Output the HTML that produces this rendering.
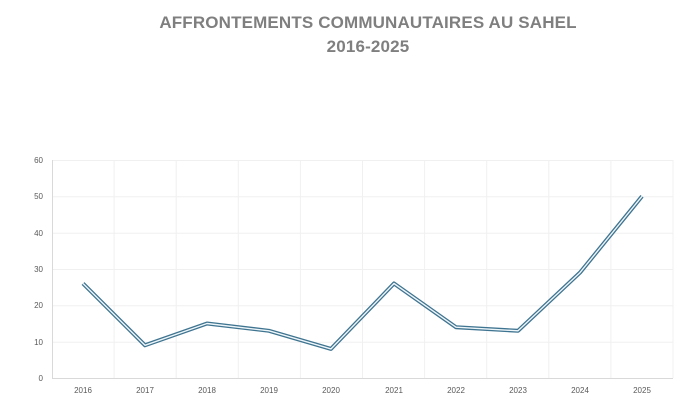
<!DOCTYPE html>
<html><head><meta charset="utf-8"><style>
body{margin:0;background:#fff;}
</style></head><body>
<svg width="684" height="400" xmlns="http://www.w3.org/2000/svg" font-family="Liberation Sans, sans-serif">
<text x="368" y="28" text-anchor="middle" font-size="17" font-weight="bold" fill="#7f7f7f" letter-spacing="0.15">AFFRONTEMENTS COMMUNAUTAIRES AU SAHEL</text>
<text x="368" y="52" text-anchor="middle" font-size="17" font-weight="bold" fill="#7f7f7f" letter-spacing="0.15">2016-2025</text>
<g stroke="#f0f0f0" stroke-width="1">
<line x1="52" x2="673" y1="160.5" y2="160.5"/><line x1="52" x2="673" y1="196.8" y2="196.8"/>
<line x1="52" x2="673" y1="233.2" y2="233.2"/><line x1="52" x2="673" y1="269.5" y2="269.5"/>
<line x1="52" x2="673" y1="305.8" y2="305.8"/><line x1="52" x2="673" y1="342.2" y2="342.2"/>
<line x1="114.1" x2="114.1" y1="160" y2="378"/><line x1="176.2" x2="176.2" y1="160" y2="378"/>
<line x1="238.3" x2="238.3" y1="160" y2="378"/><line x1="300.4" x2="300.4" y1="160" y2="378"/>
<line x1="362.5" x2="362.5" y1="160" y2="378"/><line x1="424.6" x2="424.6" y1="160" y2="378"/>
<line x1="486.7" x2="486.7" y1="160" y2="378"/><line x1="548.8" x2="548.8" y1="160" y2="378"/>
<line x1="610.9" x2="610.9" y1="160" y2="378"/><line x1="673" x2="673" y1="160" y2="378"/>
</g>
<line x1="52.5" x2="52.5" y1="160" y2="378" stroke="#d9d9d9"/>
<line x1="52" x2="673" y1="378.5" y2="378.5" stroke="#d9d9d9"/>
<g font-size="8" fill="#595959" text-anchor="end">
<text x="43" y="163">60</text><text x="43" y="199">50</text><text x="43" y="236">40</text>
<text x="43" y="272">30</text><text x="43" y="308">20</text><text x="43" y="345">10</text><text x="43" y="381">0</text>
</g>
<g font-size="8" fill="#595959" text-anchor="middle">
<text x="83" y="393">2016</text><text x="145" y="393">2017</text><text x="207" y="393">2018</text>
<text x="269" y="393">2019</text><text x="331" y="393">2020</text><text x="394" y="393">2021</text>
<text x="456" y="393">2022</text><text x="518" y="393">2023</text><text x="580" y="393">2024</text>
<text x="642" y="393">2025</text>
</g>
<polyline fill="none" stroke="#3f7490" stroke-width="4" stroke-linejoin="round" points="83,283.5 145,345.3 207,323.5 269,330.8 331,348.9 394,283.5 456,327.2 518,330.8 580,272.6 642,196.3"/>
<polyline fill="none" stroke="#eef6fa" stroke-width="1.4" stroke-linejoin="round" points="83,283.5 145,345.3 207,323.5 269,330.8 331,348.9 394,283.5 456,327.2 518,330.8 580,272.6 642,196.3"/>
</svg>
</body></html>
